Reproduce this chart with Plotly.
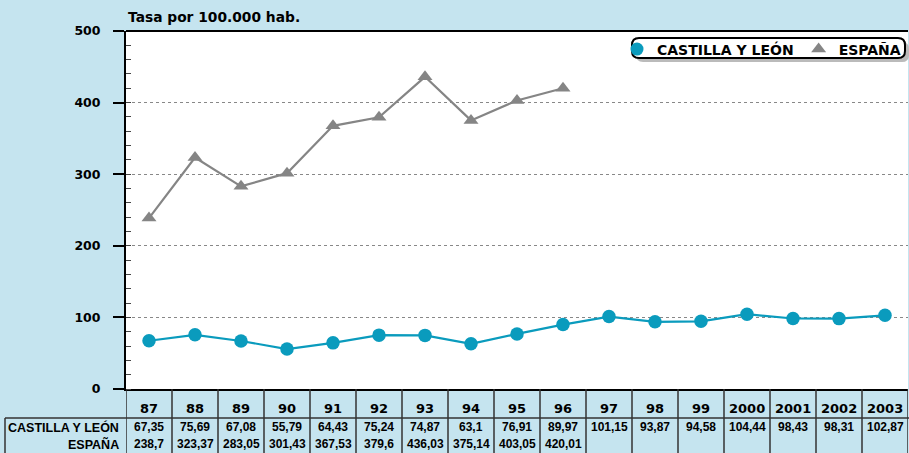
import plotly.graph_objects as go

years = ["87", "88", "89", "90", "91", "92", "93", "94", "95", "96", "97", "98", "99", "2000", "2001", "2002", "2003"]
cyl = [67.35, 75.69, 67.08, 55.79, 64.43, 75.24, 74.87, 63.1, 76.91, 89.97, 101.15, 93.87, 94.58, 104.44, 98.43, 98.31, 102.87]
esp = [238.7, 323.37, 283.05, 301.43, 367.53, 379.6, 436.03, 375.14, 403.05, 420.01]
cyl_txt = ["67,35", "75,69", "67,08", "55,79", "64,43", "75,24", "74,87", "63,1", "76,91", "89,97", "101,15", "93,87", "94,58", "104,44", "98,43", "98,31", "102,87"]
esp_txt = ["238,7", "323,37", "283,05", "301,43", "367,53", "379,6", "436,03", "375,14", "403,05", "420,01"]
y_ticks = [0, 100, 200, 300, 400, 500]
series_names = ["CASTILLA Y LEÓN", "ESPAÑA"]

BG = "#C5E4EF"
BLUE = "#0A9BBD"
GRAY = "#858585"
ARIAL = "Liberation Sans, Arial, sans-serif"
DJV = "DejaVu Sans, Verdana, sans-serif"

fig = go.Figure()
fig.add_trace(go.Scatter(x=years, y=cyl, name=series_names[0], mode="lines+markers", showlegend=False,
                         line=dict(color=BLUE, width=2.2),
                         marker=dict(symbol="circle", size=13.5, color=BLUE)))
fig.add_trace(go.Scatter(x=years[:len(esp)], y=esp, name=series_names[1], mode="lines+markers", showlegend=False,
                         line=dict(color=GRAY, width=2.2),
                         marker=dict(symbol="triangle-up", size=13, color=GRAY)))
# legend entries (marker only, as in the reference)
fig.add_trace(go.Scatter(x=[None], y=[None], name=series_names[0], mode="markers",
                         marker=dict(symbol="circle", size=13, color=BLUE)))
fig.add_trace(go.Scatter(x=[None], y=[None], name=series_names[1], mode="markers",
                         marker=dict(symbol="triangle-up", size=13, color=GRAY)))

W, H = 909, 453
L, R, T, B = 126, 1, 31, 64
ph = H - T - B
pw = W - L - R

def py(p):
    return (H - B - p) / ph

def px(p):
    return (p - L) / pw

def rrect(x0, y0, x1, y1, r):
    X = lambda v: f"{px(v):.5f}"
    Y = lambda v: f"{py(v):.5f}"
    return (f"M {X(x0 + r)},{Y(y0)} L {X(x1 - r)},{Y(y0)} Q {X(x1)},{Y(y0)} {X(x1)},{Y(y0 + r)} "
            f"L {X(x1)},{Y(y1 - r)} Q {X(x1)},{Y(y1)} {X(x1 - r)},{Y(y1)} "
            f"L {X(x0 + r)},{Y(y1)} Q {X(x0)},{Y(y1)} {X(x0)},{Y(y1 - r)} "
            f"L {X(x0)},{Y(y0 + r)} Q {X(x0)},{Y(y0)} {X(x0 + r)},{Y(y0)} Z")

shapes = []
shapes.append(dict(type="line", xref="paper", yref="paper", x0=0, x1=1, y0=1, y1=1,
                   line=dict(color="black", width=2)))
n = len(years)
for i in range(n + 1):
    shapes.append(dict(type="line", xref="x", yref="paper", x0=i - 0.5, x1=i - 0.5,
                       y0=0, y1=py(460), line=dict(color="#333333", width=1.5)))
shapes.append(dict(type="line", xref="paper", yref="paper", x0=px(5), x1=1.01, y0=py(418), y1=py(418),
                   line=dict(color="#333333", width=1.5)))
shapes.append(dict(type="line", xref="paper", yref="paper", x0=px(5), x1=px(5), y0=py(418), y1=py(460),
                   line=dict(color="#333333", width=1.5)))
shapes.append(dict(type="path", xref="paper", yref="paper", path=rrect(636, 42, 909, 62, 7),
                   fillcolor="#BBBBBB", line=dict(width=0), layer="above"))
shapes.append(dict(type="path", xref="paper", yref="paper", path=rrect(632, 38, 905, 58, 7),
                   fillcolor="white", line=dict(color="black", width=2), layer="above"))

ann = []
ann.append(dict(text="<b>Tasa por 100.000 hab.</b>", xref="paper", yref="paper", x=0, y=py(17),
                xanchor="left", yanchor="middle", showarrow=False, font=dict(size=13.8, color="black", family=DJV)))
for i, yv in enumerate(years):
    ann.append(dict(text=f"<b>{yv}</b>", xref="x", yref="paper", x=i, y=py(408), showarrow=False,
                    xanchor="center", yanchor="middle", font=dict(size=13, color="black", family=DJV)))
    ann.append(dict(text=f"<b>{cyl_txt[i]}</b>", xref="x", yref="paper", x=i, y=py(427), showarrow=False,
                    xanchor="center", yanchor="middle", font=dict(size=12, color="black", family=ARIAL)))
    if i < len(esp_txt):
        ann.append(dict(text=f"<b>{esp_txt[i]}</b>", xref="x", yref="paper", x=i, y=py(444), showarrow=False,
                        xanchor="center", yanchor="middle", font=dict(size=12, color="black", family=ARIAL)))
ann.append(dict(text="<b>CASTILLA Y LEÓN</b>", xref="paper", yref="paper", x=px(121), y=py(427), showarrow=False,
                xanchor="right", yanchor="middle", font=dict(size=12.5, color="black", family=ARIAL)))
ann.append(dict(text="<b>ESPAÑA</b>", xref="paper", yref="paper", x=px(121), y=py(444), showarrow=False,
                xanchor="right", yanchor="middle", font=dict(size=12.5, color="black", family=ARIAL)))

fig.update_layout(
    width=W, height=H,
    margin=dict(l=L, r=R, t=T, b=B),
    paper_bgcolor=BG, plot_bgcolor="white",
    font=dict(family=ARIAL, color="black"),
    showlegend=True,
    legend=dict(orientation="h", x=px(617), xanchor="left", y=py(33.5), yanchor="top",
                bgcolor="rgba(0,0,0,0)", borderwidth=0,
                font=dict(size=14, color="black", family=DJV, weight="bold"),
                itemwidth=30, tracegroupgap=0),
    shapes=shapes, annotations=ann,
    xaxis=dict(type="category", categoryorder="array", categoryarray=years, range=[-0.5, n - 0.5],
               showticklabels=False, showgrid=False, zeroline=False,
               showline=True, linecolor="black", linewidth=2, ticks=""),
    yaxis=dict(range=[0, 500], tickvals=y_ticks, showgrid=True, gridcolor="#888888", griddash="dot", gridwidth=1,
               zeroline=False, showline=True, linecolor="black", linewidth=2,
               ticks="outside", ticklen=11, tickcolor="black", tickwidth=1.5,
               ticklabelstandoff=10,
               tickfont=dict(size=12.5, color="black", family=DJV, weight="bold"),
               minor=dict(dtick=20, ticks="inside", ticklen=5, tickcolor="#444444", tickwidth=1, showgrid=False)),
)
fig.write_html("out.html", config={"displayModeBar": False},
               post_script="document.body.style.margin='0px';")
